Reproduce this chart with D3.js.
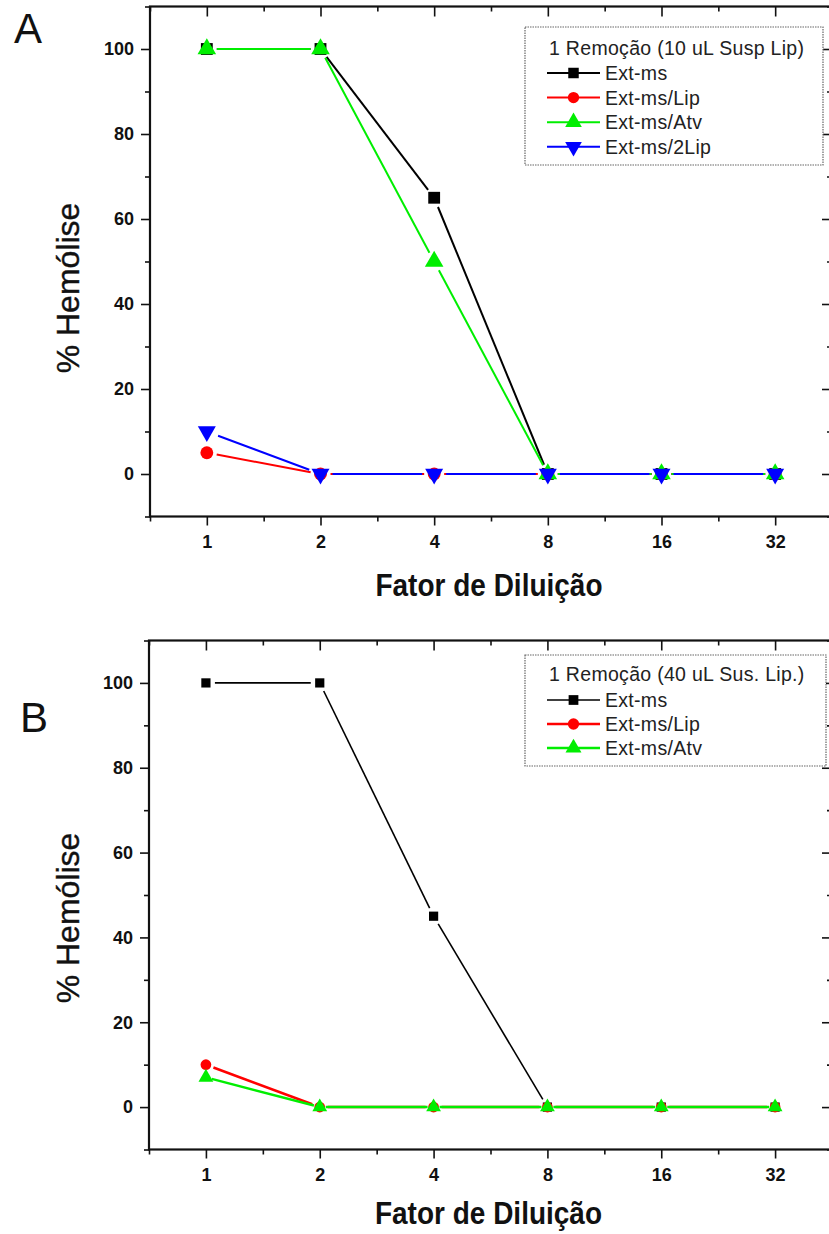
<!DOCTYPE html>
<html>
<head>
<meta charset="utf-8">
<script src="https://cdn.jsdelivr.net/npm/d3@7"></script>
<style>
  html, body { margin: 0; padding: 0; background: #fff; }
  svg { display: block; }
</style>
</head>
<body>
<svg id="chart" width="829" height="1234"></svg>
<script>
// Dilution factors (x categories) and y tick values
const categories = ["1", "2", "4", "8", "16", "32"];
const yTickValues = [0, 20, 40, 60, 80, 100];
const yMinorValues = [-10, 10, 30, 50, 70, 90, 110];

// Panel A: 1 Remoção (10 uL Susp Lip)
const legendTitleA = "1 Remoção (10 uL Susp Lip)";
const namesA = ["Ext-ms", "Ext-ms/Lip", "Ext-ms/Atv", "Ext-ms/2Lip"];
const extMsA = [100, 100, 65, 0, 0, 0];
const extMsLipA = [5, 0, 0, 0, 0, 0];
const extMsAtvA = [100, 100, 50, 0, 0, 0];
const extMs2LipA = [10, 0, 0, 0, 0, 0];

// Panel B: 1 Remoção (40 uL Sus. Lip.)
const legendTitleB = "1 Remoção (40 uL Sus. Lip.)";
const namesB = ["Ext-ms", "Ext-ms/Lip", "Ext-ms/Atv"];
const extMsB = [100, 100, 45, 0, 0, 0];
const extMsLipB = [10, 0, 0, 0, 0, 0];
const extMsAtvB = [7, 0, 0, 0, 0, 0];

const yTitle = "% Hemólise";
const xTitle = "Fator de Diluição";

const svg = d3.select("#chart");
const FONT = "'Liberation Sans', Arial, sans-serif";

function drawPanel(cfg) {
  const g = svg.append("g");
  const { left, right, top, bottom } = cfg;

  const x = d3.scalePoint().domain(categories).range([left, right]).padding(0.5);
  const xMinor = d3.scaleLinear().domain([-0.5, categories.length - 0.5]).range([left, right]);
  const minorX = d3.range(-0.5, categories.length, 1);
  const y = d3.scaleLinear().domain([-10, 110]).range([bottom, top]);

  const styleAxis = sel => {
    sel.select(".domain").remove();
    sel.selectAll(".tick line").attr("stroke", "#111").attr("stroke-width", 1.6);
    sel.selectAll(".tick text")
      .attr("font-family", FONT).attr("font-weight", "bold")
      .attr("font-size", 18).attr("fill", "#111");
  };

  // bottom axis
  g.append("g").attr("transform", `translate(0,${bottom})`)
    .call(d3.axisBottom(x).tickSize(9).tickSizeOuter(0).tickPadding(10))
    .call(styleAxis);
  g.append("g").attr("transform", `translate(0,${bottom})`)
    .call(d3.axisBottom(xMinor).tickValues(minorX).tickFormat("").tickSize(5).tickSizeOuter(0))
    .call(styleAxis);
  // top axis (inward ticks)
  g.append("g").attr("transform", `translate(0,${top})`)
    .call(d3.axisTop(x).tickSize(-10).tickFormat("").tickSizeOuter(0))
    .call(styleAxis);
  g.append("g").attr("transform", `translate(0,${top})`)
    .call(d3.axisTop(xMinor).tickValues(minorX).tickFormat("").tickSize(-5).tickSizeOuter(0))
    .call(styleAxis);
  // left axis
  g.append("g").attr("transform", `translate(${left},0)`)
    .call(d3.axisLeft(y).tickValues(yTickValues).tickSize(9).tickSizeOuter(0).tickPadding(7))
    .call(styleAxis);
  g.append("g").attr("transform", `translate(${left},0)`)
    .call(d3.axisLeft(y).tickValues(yMinorValues).tickFormat("").tickSize(5).tickSizeOuter(0))
    .call(styleAxis);
  // right axis (inward ticks)
  g.append("g").attr("transform", `translate(${right},0)`)
    .call(d3.axisRight(y).tickValues(yTickValues).tickFormat("").tickSize(-10).tickSizeOuter(0))
    .call(styleAxis);
  g.append("g").attr("transform", `translate(${right},0)`)
    .call(d3.axisRight(y).tickValues(yMinorValues).tickFormat("").tickSize(-5).tickSizeOuter(0))
    .call(styleAxis);

  // frame
  g.append("rect")
    .attr("x", left).attr("y", top)
    .attr("width", right - left).attr("height", bottom - top)
    .attr("fill", "none").attr("stroke", "#111").attr("stroke-width", 2.2);

  // series: line segments with small gaps around symbols, then symbols
  cfg.series.forEach(s => {
    const pts = s.values.map((v, i) => [x(categories[i]), y(v)]);
    const gap = s.gap;
    const segs = [];
    for (let i = 0; i < pts.length - 1; i++) {
      const [x0, y0] = pts[i], [x1, y1] = pts[i + 1];
      const dx = x1 - x0, dy = y1 - y0, L = Math.hypot(dx, dy);
      if (L <= 2 * gap) continue;
      const ux = dx / L, uy = dy / L;
      segs.push([[x0 + ux * gap, y0 + uy * gap], [x1 - ux * gap, y1 - uy * gap]]);
    }
    g.append("g").selectAll("path").data(segs).join("path")
      .attr("d", d => d3.line()(d))
      .attr("stroke", s.color).attr("stroke-width", s.width).attr("fill", "none");

    g.append("g").selectAll("path").data(pts).join("path")
      .attr("transform", d => `translate(${d[0]},${d[1]})${s.down ? " rotate(180)" : ""}`)
      .attr("d", d3.symbol().type(s.symbol).size(s.size)())
      .attr("fill", s.color);
  });

  // legend
  const lg = g.append("g");
  lg.append("rect")
    .attr("x", cfg.legend.x).attr("y", cfg.legend.y)
    .attr("width", cfg.legend.w).attr("height", cfg.legend.h)
    .attr("fill", "#fff").attr("stroke", "#666").attr("stroke-width", 1.2)
    .attr("stroke-dasharray", "1.5,1");
  lg.append("text")
    .attr("x", cfg.legend.x + 24).attr("y", cfg.legend.titleY)
    .attr("font-family", FONT).attr("font-size", cfg.legend.fs).attr("fill", "#222")
    .attr("letter-spacing", 0.3)
    .text(cfg.legend.title);
  cfg.series.forEach((s, i) => {
    const ry = cfg.legend.rowY + i * cfg.legend.rowStep;
    const lx0 = cfg.legend.x + 22, lx1 = cfg.legend.x + 75;
    lg.append("line").attr("x1", lx0).attr("x2", lx1).attr("y1", ry).attr("y2", ry)
      .attr("stroke", s.color).attr("stroke-width", s.width);
    lg.append("path")
      .attr("transform", `translate(${(lx0 + lx1) / 2},${ry})${s.down ? " rotate(180)" : ""}`)
      .attr("d", d3.symbol().type(s.symbol).size(s.legendSize)())
      .attr("fill", s.color);
    lg.append("text")
      .attr("x", lx1 + 5).attr("y", ry + cfg.legend.fs * 0.36)
      .attr("font-family", FONT).attr("font-size", cfg.legend.fs).attr("fill", "#222")
      .attr("letter-spacing", 0.3)
      .text(s.name);
  });

  // axis titles
  g.append("text")
    .attr("transform", `translate(${(left + 832) / 2 - 2},${bottom + cfg.xTitleOffset}) scale(1,1.12)`)
    .attr("text-anchor", "middle")
    .attr("font-family", FONT).attr("font-weight", "bold").attr("font-size", 28)
    .attr("fill", "#111").text(xTitle);
  g.append("text")
    .attr("transform", `translate(79,${cfg.yTitleCenter}) rotate(-90)`)
    .attr("text-anchor", "middle")
    .attr("font-family", FONT).attr("font-size", 32).attr("fill", "#111")
    .attr("stroke", "#111").attr("stroke-width", 0.4)
    .text(yTitle);

  // panel letter
  g.append("text")
    .attr("x", cfg.letter.x).attr("y", cfg.letter.y)
    .attr("font-family", FONT).attr("font-size", 42).attr("fill", "#111")
    .text(cfg.letter.text);
}

drawPanel({
  left: 150, right: 832, top: 6.5, bottom: 516.5,
  xTitleOffset: 79,
  yTitleCenter: 288,
  letter: { text: "A", x: 14, y: 43 },
  series: [
    { name: namesA[0], values: extMsA, color: "#000000", symbol: d3.symbolSquare, size: 140, legendSize: 110, width: 2, gap: 10 },
    { name: namesA[1], values: extMsLipA, color: "#ff0000", symbol: d3.symbolCircle, size: 130, legendSize: 100, width: 2, gap: 10 },
    { name: namesA[2], values: extMsAtvA, color: "#00ee00", symbol: d3.symbolTriangle, size: 150, legendSize: 120, width: 2, gap: 10 },
    { name: namesA[3], values: extMs2LipA, color: "#0000ff", symbol: d3.symbolTriangle, down: true, size: 140, legendSize: 120, width: 2, gap: 12 }
  ],
  legend: { x: 525, y: 27, w: 298, h: 138, title: legendTitleA, titleY: 55, rowY: 73, rowStep: 24.6, fs: 19.5 }
});

drawPanel({
  left: 149, right: 832, top: 640.5, bottom: 1149.5,
  xTitleOffset: 74,
  yTitleCenter: 918,
  letter: { text: "B", x: 20, y: 732 },
  series: [
    { name: namesB[0], values: extMsB, color: "#000000", symbol: d3.symbolSquare, size: 85, legendSize: 95, width: 1.6, gap: 9 },
    { name: namesB[1], values: extMsLipB, color: "#ff0000", symbol: d3.symbolCircle, size: 90, legendSize: 100, width: 2.5, gap: 8 },
    { name: namesB[2], values: extMsAtvB, color: "#00ee00", symbol: d3.symbolTriangle, size: 95, legendSize: 110, width: 2.5, gap: 6 }
  ],
  legend: { x: 525, y: 655, w: 301, h: 111, title: legendTitleB, titleY: 681, rowY: 700, rowStep: 24, fs: 19.5 }
});
</script>
</body>
</html>
